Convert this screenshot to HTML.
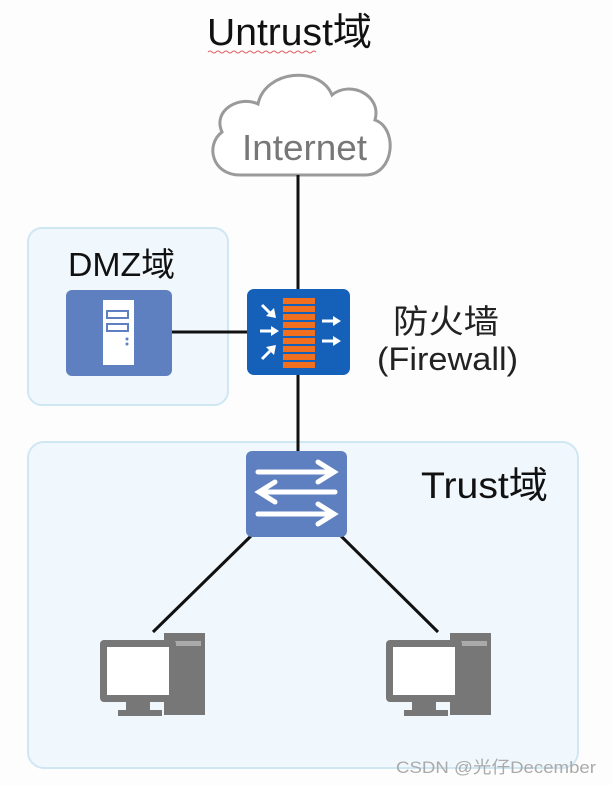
<!DOCTYPE html>
<html><head><meta charset="utf-8"><style>
html,body{margin:0;padding:0;background:#fff;}
svg{display:block;}
text{font-family:"Liberation Sans","Noto Sans CJK SC",sans-serif;}
</style></head><body>
<svg width="613" height="785" viewBox="0 0 613 785" xmlns="http://www.w3.org/2000/svg">
<rect width="613" height="785" fill="#fdfdfd"/>
<!-- zones -->
<rect x="28" y="228" width="200" height="177" rx="14" fill="#f1f8fd" stroke="#cfe6f3" stroke-width="2"/>
<rect x="28" y="442" width="550" height="326" rx="16" fill="#f1f8fd" stroke="#cfe6f3" stroke-width="2"/>
<!-- title -->
<text x="207" y="45" font-size="38" fill="#111" textLength="165" lengthAdjust="spacingAndGlyphs">Untrust域</text>
<path d="M208 52 q2 -2 4 0 t4 0 t4 0 t4 0 t4 0 t4 0 t4 0 t4 0 t4 0 t4 0 t4 0 t4 0 t4 0 t4 0 t4 0 t4 0 t4 0 t4 0 t4 0 t4 0 t4 0 t4 0 t4 0 t4 0 t4 0 t4 0 t4 0" fill="none" stroke="#e06060" stroke-width="1"/>
<!-- cloud -->
<path d="M240 175 C212 175 205 145 222 132 C212 110 240 95 258 104 C265 70 320 65 332 95 C350 80 382 95 375 120 C398 128 395 175 365 175 Z" fill="#fff" stroke="#9a9a9a" stroke-width="3"/>
<text x="242" y="160" font-size="36" fill="#777" textLength="125" lengthAdjust="spacingAndGlyphs">Internet</text>
<!-- lines -->
<line x1="298" y1="175" x2="298" y2="290" stroke="#111" stroke-width="3"/>
<line x1="298" y1="374" x2="298" y2="452" stroke="#111" stroke-width="3"/>
<line x1="168" y1="332" x2="248" y2="332" stroke="#111" stroke-width="3"/>
<line x1="252" y1="535" x2="153" y2="632" stroke="#111" stroke-width="3"/>
<line x1="340" y1="535" x2="438" y2="632" stroke="#111" stroke-width="3"/>
<!-- DMZ -->
<text x="68" y="276" font-size="33" fill="#111" textLength="107" lengthAdjust="spacingAndGlyphs">DMZ域</text>
<rect x="66" y="290" width="106" height="86" rx="6" fill="#5f80c0"/>
<rect x="103" y="300" width="31" height="65" fill="#fff"/>
<rect x="107" y="311" width="21" height="7" fill="none" stroke="#5f80c0" stroke-width="2"/>
<rect x="107" y="324" width="21" height="7" fill="none" stroke="#5f80c0" stroke-width="2"/>
<circle cx="127" cy="339" r="1.5" fill="#5f80c0"/><circle cx="127" cy="344" r="1.5" fill="#5f80c0"/>
<!-- firewall -->
<rect x="247" y="289" width="103" height="86" rx="7" fill="#1560b8"/>
<g fill="#f07020">
<rect x="283" y="298" width="32" height="6"/><rect x="283" y="306" width="32" height="6"/><rect x="283" y="314" width="32" height="6"/><rect x="283" y="322" width="32" height="6"/><rect x="283" y="330" width="32" height="6"/><rect x="283" y="338" width="32" height="6"/><rect x="283" y="346" width="32" height="6"/><rect x="283" y="354" width="32" height="6"/><rect x="283" y="362" width="32" height="6"/>
</g>
<g stroke="#fff" stroke-width="3" fill="#fff">
<line x1="262" y1="305" x2="270" y2="313"/><line x1="260" y1="331" x2="272" y2="331"/><line x1="262" y1="359" x2="270" y2="351"/>
<line x1="322" y1="321" x2="334" y2="321"/><line x1="322" y1="341" x2="334" y2="341"/>
</g>
<g fill="#fff">
<polygon points="276,318 266,316 274,308"/><polygon points="279,331 271,326 271,336"/><polygon points="276,345 266,347 274,355"/>
<polygon points="341,321 333,316 333,326"/><polygon points="341,341 333,336 333,346"/>
</g>
<text x="393" y="333" font-size="33" fill="#222" textLength="106" lengthAdjust="spacingAndGlyphs">防火墙</text>
<text x="377" y="370" font-size="32" fill="#222" textLength="141" lengthAdjust="spacingAndGlyphs">(Firewall)</text>
<!-- switch -->
<rect x="246" y="451" width="101" height="86" rx="6" fill="#5f80c0"/>
<g stroke="#fff" stroke-width="5" fill="none" stroke-linecap="round">
<line x1="258" y1="472" x2="330" y2="472"/><polyline points="318,462 334,472 318,482"/>
<line x1="263" y1="492" x2="335" y2="492"/><polyline points="275,482 259,492 275,502"/>
<line x1="258" y1="514" x2="330" y2="514"/><polyline points="318,504 334,514 318,524"/>
</g>
<text x="421" y="498" font-size="37" fill="#111" textLength="127" lengthAdjust="spacingAndGlyphs">Trust域</text>
<!-- PCs -->
<g>
<rect x="164" y="633" width="41" height="82" fill="#777"/>
<rect x="168" y="641" width="33" height="5" fill="#aaa"/>
<rect x="100" y="640" width="76" height="62" rx="4" fill="#777"/>
<rect x="107" y="647" width="62" height="48" fill="#fff"/>
<rect x="126" y="702" width="24" height="8" fill="#777"/>
<rect x="118" y="710" width="44" height="6" fill="#777"/>
</g>
<g transform="translate(286,0)">
<rect x="164" y="633" width="41" height="82" fill="#777"/>
<rect x="168" y="641" width="33" height="5" fill="#aaa"/>
<rect x="100" y="640" width="76" height="62" rx="4" fill="#777"/>
<rect x="107" y="647" width="62" height="48" fill="#fff"/>
<rect x="126" y="702" width="24" height="8" fill="#777"/>
<rect x="118" y="710" width="44" height="6" fill="#777"/>
</g>
<text x="396" y="773" font-size="17" fill="#aaa" textLength="200" lengthAdjust="spacingAndGlyphs">CSDN @光仔December</text>
</svg>
</body></html>
